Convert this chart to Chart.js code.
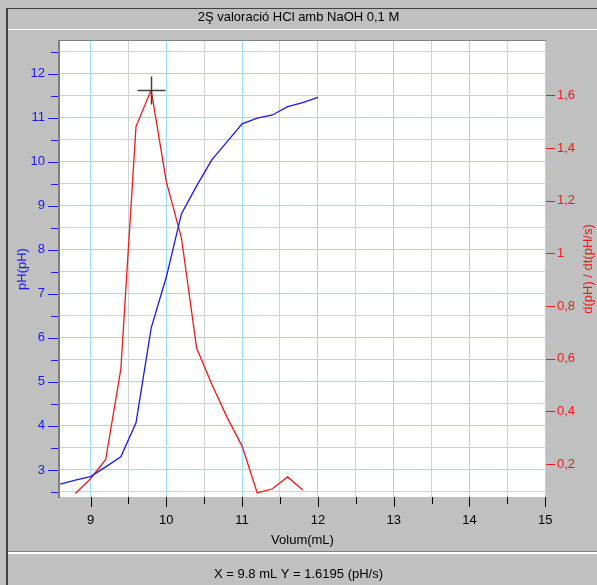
<!DOCTYPE html>
<html>
<head>
<meta charset="utf-8">
<script src="https://cdn.jsdelivr.net/npm/chart.js@4.4.0/dist/chart.umd.min.js"></script>
<style>
  html, body { margin: 0; padding: 0; background: #c0c0c0; }
  #wrap { width: 597px; height: 585px; }
</style>
</head>
<body>
<div id="wrap"><canvas id="myChart" width="597" height="585"></canvas></div>
<script>
// titration data: pH curve and its derivative
const volumes = [8.6, 8.8, 9.0, 9.2, 9.4, 9.6, 9.8, 10.0, 10.2, 10.4, 10.6, 10.8, 11.0, 11.2, 11.4, 11.6, 11.8, 12.0];
const phValues = [2.68, 2.77, 2.85, 3.07, 3.30, 4.07, 6.22, 7.38, 8.82, 9.45, 10.04, 10.45, 10.86, 10.99, 11.06, 11.25, 11.34, 11.46];

const derivVolumes = [8.8, 9.0, 9.2, 9.4, 9.6, 9.8, 10.0, 10.2, 10.4, 10.6, 10.8, 11.0, 11.2, 11.4, 11.6, 11.8];
const derivValues = [0.088, 0.144, 0.217, 0.56, 1.481, 1.6195, 1.272, 1.058, 0.640, 0.503, 0.378, 0.268, 0.090, 0.106, 0.151, 0.101];

// tick labels
const xTickValues = [9, 10, 11, 12, 13, 14, 15];
const phTickValues = [3, 4, 5, 6, 7, 8, 9, 10, 11, 12];
const derivTickValues = [0.2, 0.4, 0.6, 0.8, 1.0, 1.2, 1.4, 1.6];

// cursor readout
const cursorX = 9.8;
const cursorY = 1.6195;

const chartTitle = '2Ş valoració HCl amb NaOH 0,1 M';
const xTitle = 'Volum(mL)';
const phTitle = 'pH(pH)';
const derivTitle = 'd(pH) / dt(pH/s)';
const statusText = 'X = ' + cursorX + ' mL Y = ' + cursorY + ' (pH/s)';

const BLUE = 'rgb(25,25,240)';
const RED = 'rgb(240,25,25)';
const GRID_BLUE = 'rgb(150,220,255)';
const GRID_GREY = 'rgb(208,208,208)';
const FONT = { family: "'Liberation Sans', Arial, sans-serif", size: 13 };

// major ticks plus the halfway minor ones
function withHalves(list) {
    var out = [];
    list.forEach(function (v) {
        out.push(v - 0.5);
        out.push(v);
    });
    out.push(list[list.length - 1] + 0.5);
    return out;
}

function gridColor(ctx) {
    if (!ctx.tick) return GRID_GREY;
    return Number.isInteger(ctx.tick.value) ? GRID_BLUE : GRID_GREY;
}

function commaLabel(v) {
    return String(Number(v.toFixed(1))).replace('.', ',');
}

const framePlugin = {
    id: 'frame',
    beforeDraw: function (chart) {
        const ctx = chart.ctx;
        const a = chart.chartArea;
        ctx.save();
        ctx.fillStyle = '#c0c0c0';
        ctx.fillRect(0, 0, chart.width, chart.height);
        // window frame
        ctx.fillStyle = '#404040';
        ctx.fillRect(6, 8, 2, chart.height - 8);
        ctx.fillRect(6, 8, chart.width, 1);
        ctx.fillStyle = '#ffffff';
        ctx.fillRect(8, 29, chart.width, 1);
        // status bar separator
        ctx.fillStyle = '#808080';
        ctx.fillRect(8, 551, chart.width, 1);
        ctx.fillStyle = '#ffffff';
        ctx.fillRect(8, 552, chart.width, 2);
        // plot background
        ctx.fillStyle = '#ffffff';
        ctx.fillRect(a.left, a.top, a.right - a.left, a.bottom - a.top);
        ctx.restore();
    },
    afterDraw: function (chart) {
        const ctx = chart.ctx;
        const a = chart.chartArea;
        const sx = chart.scales.x, sy = chart.scales.y, sy1 = chart.scales.y1;
        ctx.save();
        // top border of the plot
        ctx.fillStyle = '#808080';
        ctx.fillRect(a.left - 1, a.top - 1, a.right - a.left + 1, 1);

        ctx.lineWidth = 1;
        // x tick marks
        ctx.strokeStyle = '#000';
        withHalves(xTickValues).forEach(function (v) {
            if (v < sx.min || v > sx.max) return;
            const px = Math.round(sx.getPixelForValue(v)) + 0.5;
            const len = Number.isInteger(v) ? 10 : 7;
            ctx.beginPath();
            ctx.moveTo(px, a.bottom);
            ctx.lineTo(px, a.bottom + len);
            ctx.stroke();
        });
        // pH tick marks
        ctx.strokeStyle = BLUE;
        withHalves(phTickValues).forEach(function (v) {
            if (v < sy.min || v > sy.max) return;
            const py = Math.round(sy.getPixelForValue(v)) + 0.5;
            const len = Number.isInteger(v) ? 10 : 7;
            ctx.beginPath();
            ctx.moveTo(a.left - len - 1, py);
            ctx.lineTo(a.left - 1, py);
            ctx.stroke();
        });
        // derivative tick marks
        ctx.strokeStyle = RED;
        derivTickValues.forEach(function (v) {
            const py = Math.round(sy1.getPixelForValue(v)) + 0.5;
            ctx.beginPath();
            ctx.moveTo(a.right, py);
            ctx.lineTo(a.right + 9, py);
            ctx.stroke();
        });

        // right axis title, read bottom to top
        ctx.fillStyle = RED;
        ctx.font = FONT.size + 'px ' + FONT.family;
        ctx.textAlign = 'center';
        ctx.textBaseline = 'middle';
        ctx.translate(588, (a.top + a.bottom) / 2);
        ctx.rotate(-Math.PI / 2);
        ctx.fillText(derivTitle, 0, 0);
        ctx.restore();

        // cursor cross at the readout point
        const cx = Math.round(sx.getPixelForValue(cursorX)) + 0.5;
        const cy = Math.round(sy1.getPixelForValue(cursorY)) + 0.5;
        ctx.save();
        ctx.strokeStyle = '#404040';
        ctx.lineWidth = 1.5;
        ctx.beginPath();
        ctx.moveTo(cx - 14, cy);
        ctx.lineTo(cx + 14, cy);
        ctx.moveTo(cx, cy - 14);
        ctx.lineTo(cx, cy + 14);
        ctx.stroke();
        ctx.restore();
    }
};

var ctx = document.getElementById('myChart').getContext('2d');

var myChart = new Chart(ctx, {
    type: 'line',
    data: {
        datasets: [{
            label: phTitle,
            data: volumes.map(function (v, i) { return { x: v, y: phValues[i] }; }),
            borderColor: BLUE,
            borderWidth: 1.3,
            pointRadius: 0,
            tension: 0,
            yAxisID: 'y'
        }, {
            label: derivTitle,
            data: derivVolumes.map(function (v, i) { return { x: v, y: derivValues[i] }; }),
            borderColor: RED,
            borderWidth: 1.3,
            pointRadius: 0,
            tension: 0,
            yAxisID: 'y1'
        }]
    },
    options: {
        responsive: false,
        animation: false,
        devicePixelRatio: 1,
        layout: { padding: 0 },
        plugins: {
            legend: { display: false },
            tooltip: { enabled: false },
            title: {
                display: true,
                text: chartTitle,
                color: '#000',
                font: { family: FONT.family, size: 13, weight: 'normal' },
                padding: { top: 10, bottom: 15.4 }
            },
            subtitle: {
                display: true,
                position: 'bottom',
                text: statusText,
                color: '#000',
                font: { family: FONT.family, size: 13, weight: 'normal' },
                padding: { top: 10, bottom: 3 }
            }
        },
        scales: {
            x: {
                type: 'linear',
                position: 'bottom',
                min: 8.584,
                max: 15.01,
                afterBuildTicks: function (s) {
                    s.ticks = withHalves(xTickValues).filter(function (v) { return v >= s.min && v <= s.max; })
                        .map(function (v) { return { value: v }; });
                },
                afterFit: function (s) { s.height = 59.4; },
                ticks: {
                    autoSkip: false,
                    maxRotation: 0,
                    color: '#000',
                    font: FONT,
                    padding: 16,
                    callback: function (v) { return Number.isInteger(v) ? String(v) : ''; }
                },
                grid: { color: gridColor, drawTicks: false, lineWidth: 1 },
                border: { display: false },
                title: {
                    display: true,
                    text: xTitle,
                    color: '#000',
                    font: FONT,
                    padding: { top: 0, bottom: 8.6 }
                }
            },
            y: {
                type: 'linear',
                position: 'left',
                min: 2.386,
                max: 12.74,
                afterBuildTicks: function (s) {
                    s.ticks = withHalves(phTickValues).filter(function (v) { return v >= s.min && v <= s.max; })
                        .map(function (v) { return { value: v }; });
                },
                afterFit: function (s) { s.width = 59; },
                ticks: {
                    autoSkip: false,
                    color: BLUE,
                    font: FONT,
                    padding: 14,
                    callback: function (v) { return Number.isInteger(v) ? String(v) : ''; }
                },
                grid: { color: gridColor, drawTicks: false, lineWidth: 1 },
                border: { display: true, color: '#808080', width: 2 },
                title: {
                    display: true,
                    text: phTitle,
                    color: BLUE,
                    font: FONT,
                    padding: { top: 14.2, bottom: 0 }
                }
            },
            y1: {
                type: 'linear',
                position: 'right',
                min: 0.0747,
                max: 1.806,
                afterBuildTicks: function (s) {
                    s.ticks = derivTickValues.map(function (v) { return { value: v }; });
                },
                afterFit: function (s) { s.width = 51; },
                ticks: {
                    autoSkip: false,
                    color: RED,
                    font: FONT,
                    padding: 11,
                    callback: function (v) { return commaLabel(v); }
                },
                grid: { display: false, drawTicks: false },
                border: { display: false }
            }
        }
    },
    plugins: [framePlugin]
});
</script>
</body>
</html>
